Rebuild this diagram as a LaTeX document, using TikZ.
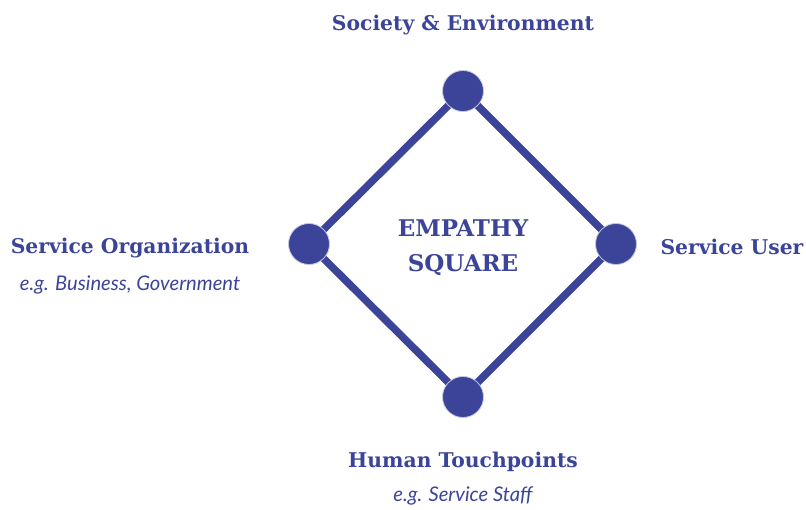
\documentclass[tikz,border=0pt]{standalone}
\usepackage{fontspec}
\setmainfont{DejaVu Serif}
\newfontfamily\notefont{Lato}
\usetikzlibrary{positioning,backgrounds}
\definecolor{squareblue}{RGB}{59,68,153}
\tikzset{corner node/.style={circle,fill=squareblue,draw=squareblue!30,line width=0.8pt,minimum size=41pt,inner sep=0pt},
}

\begin{document}
\begin{tikzpicture}[x=1pt,y=1pt,node distance=153pt,on grid,
		side/.style={squareblue,line width=7.5pt},
		head/.style={text=squareblue,font=\bfseries\fontsize{20.3}{24}\selectfont,inner sep=0pt},
		note/.style={text=squareblue,font=\notefont\itshape\fontsize{20.2}{24}\selectfont,inner sep=0pt}]
		\useasboundingbox (0,0) rectangle (806,510);
		
		% the four corners of the square
		\node[corner node] (top) at (463,419) {};
		\node[corner node] (right) [below right=153pt and 153pt of top] {};
		\node[corner node] (bottom) [below left=153pt and 153pt of right] {};
		\node[corner node] (left) [above left=153pt and 154pt of bottom] {};
		
		\begin{scope}[on background layer]
		\draw[side,line join=round] (top.center) -- (right.center) -- (bottom.center) -- (left.center) -- cycle;
		\end{scope}
		
		\node[head,align=center,font=\bfseries\fontsize{23}{27}\selectfont] (centre) at (463,262) {EMPATHY\\[8pt]SQUARE};
		
		% labels
		\node[head] (society) at (463,485) {Society \& Environment};
		\node[head] (org) at (130,262) {Service Organization};
		\node[note] (orgnote) [below=37pt of org] {e.g. Business, Government};
		\node[head] (user) at (732,263) {Service User};
		\node[head] (human) at (463,48) {Human Touchpoints};
		\node[note] (humannote) [below=34pt of human] {e.g. Service Staff};
\end{tikzpicture}
\end{document}
